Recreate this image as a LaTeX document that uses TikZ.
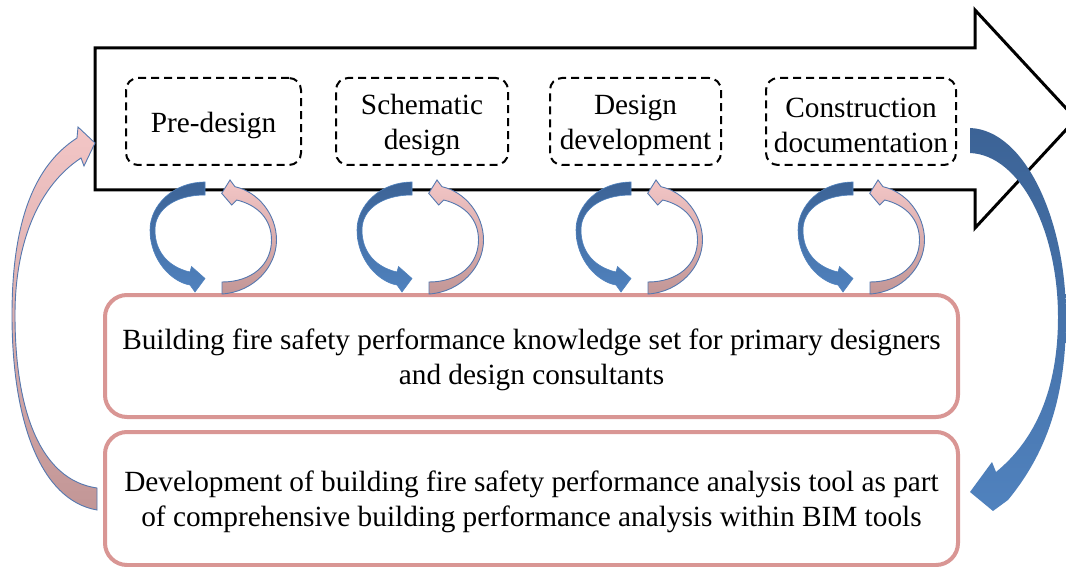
\documentclass[tikz,border=0pt]{standalone}
\usepackage{fontspec}
\setmainfont{Liberation Serif}
\definecolor{bluetop}{RGB}{60,99,150}
\definecolor{bluebot}{RGB}{80,130,190}
\definecolor{pinktop}{RGB}{243,198,198}
\definecolor{pinkbot}{RGB}{194,150,150}
\definecolor{pinkline}{RGB}{217,150,148}
\definecolor{edgeblue}{RGB}{85,120,175}
\newcommand\cyclepair[1]{%
\begin{scope}[shift={(#1,237)}]
\shadedraw[bluearr] (-8.5,-55) .. controls (-40,-55) and (-63.5,-32) .. (-63.5,-7)
  .. controls (-63.5,23) and (-42,45) .. (-23.5,48) -- (-18.5,55) -- (-8.5,41.5)
  -- (-22,29.5) -- (-23.5,35) .. controls (-45,30) and (-58.5,15) .. (-58.5,-7)
  .. controls (-58.5,-28) and (-38,-42) .. (-8.5,-42) -- cycle;
\shadedraw[pinkarr] (8.5,57) .. controls (40,55) and (63,30) .. (63,3)
  .. controls (63,-22) and (45,-45) .. (21.5,-50.3) -- (16.5,-57) -- (8.2,-43.7)
  -- (18.2,-32) -- (23.2,-37) .. controls (44,-32) and (58,-18) .. (58,3)
  .. controls (58,28) and (38,45) .. (8.5,45) -- cycle;
\end{scope}}
\begin{document}
\begin{tikzpicture}[x=1pt,y=-1pt,
  stagebox/.style={draw=black,line width=2pt,dash pattern=on 8pt off 5pt,
    rounded corners=12pt,inner sep=0pt,minimum height=87pt},
  knowbox/.style={draw=pinkline,line width=4pt,rounded corners=22pt,
    inner sep=0pt,fill=white,minimum width=853pt},
  boxtext/.style={align=center,inner sep=0pt,font=\fontsize{29.3}{35}\selectfont},
  bluearr/.style={top color=bluetop,bottom color=bluebot,draw=bluebot,line width=0.6pt},
  pinkarr/.style={top color=pinktop,bottom color=pinkbot,draw=edgeblue,line width=0.9pt},
  bigarrow/.style={draw=black,line width=3pt,line join=miter}]
\useasboundingbox (0,0) rectangle (1066,567);
\clip (0,0) rectangle (1066,567);
\fill[white] (0,0) rectangle (1066,567);
% main process arrow
\draw[bigarrow] (95,48) -- (975,48) -- (975,10) -- (1076,119) -- (975,228)
  -- (975,190) -- (95,190) -- cycle;
% right feedback arrow
\shade[bluearr,draw=none] (970,128) .. controls (1025,130) and (1066,220) .. (1066,317)
  .. controls (1066,400) and (1045,455) .. (1008,500) -- (993,511) -- (970,492)
  -- (992,462) -- (996,472) .. controls (1035,440) and (1058,390) .. (1058,317)
  .. controls (1058,230) and (1020,155) .. (970,153) -- cycle;
% stages
\node[stagebox,minimum width=175pt] (pre) at (213.5,121.5) {};
\node[stagebox,minimum width=172pt] (sch) at (422,121.5) {};
\node[stagebox,minimum width=171pt] (dev) at (635.5,121.5) {};
\node[stagebox,minimum width=190pt] (con) at (861,121.5) {};
\node[boxtext] (pret) at ([yshift=-3.5pt]pre.center) {Pre-design};
\node[boxtext] (scht) at ([yshift=-3.5pt]sch.center) {Schematic\\design};
\node[boxtext] (devt) at ([yshift=-3.5pt]dev.center) {Design\\development};
\node[boxtext] (cont) at ([yshift=-3.5pt]con.center) {Construction\\documentation};
% lower boxes
\node[knowbox,minimum height=122pt] (know) at (531.5,356) {};
\node[knowbox,minimum height=133pt] (tool) at (531.5,498.5) {};
\node[boxtext] (knowt) at ([yshift=-4pt]know.center)
  {Building fire safety performance knowledge set for primary designers\\and design consultants};
\node[boxtext] (toolt) at ([yshift=-3pt]tool.center)
  {Development of building fire safety performance analysis tool as part\\of comprehensive building performance analysis within BIM tools};
% exchange cycles
\cyclepair{213.5}
\cyclepair{420.5}
\cyclepair{639.5}
\cyclepair{861.5}
% left feedback arrow
\shadedraw[pinkarr] (97,510) .. controls (40,500) and (12,420) .. (12,315)
  .. controls (12,220) and (35,165) .. (77,138) -- (78,127) -- (95,143)
  -- (84,166) -- (81,158) .. controls (40,185) and (15,240) .. (15,315)
  .. controls (15,410) and (40,480) .. (97,488) -- cycle;
\end{tikzpicture}
\end{document}
